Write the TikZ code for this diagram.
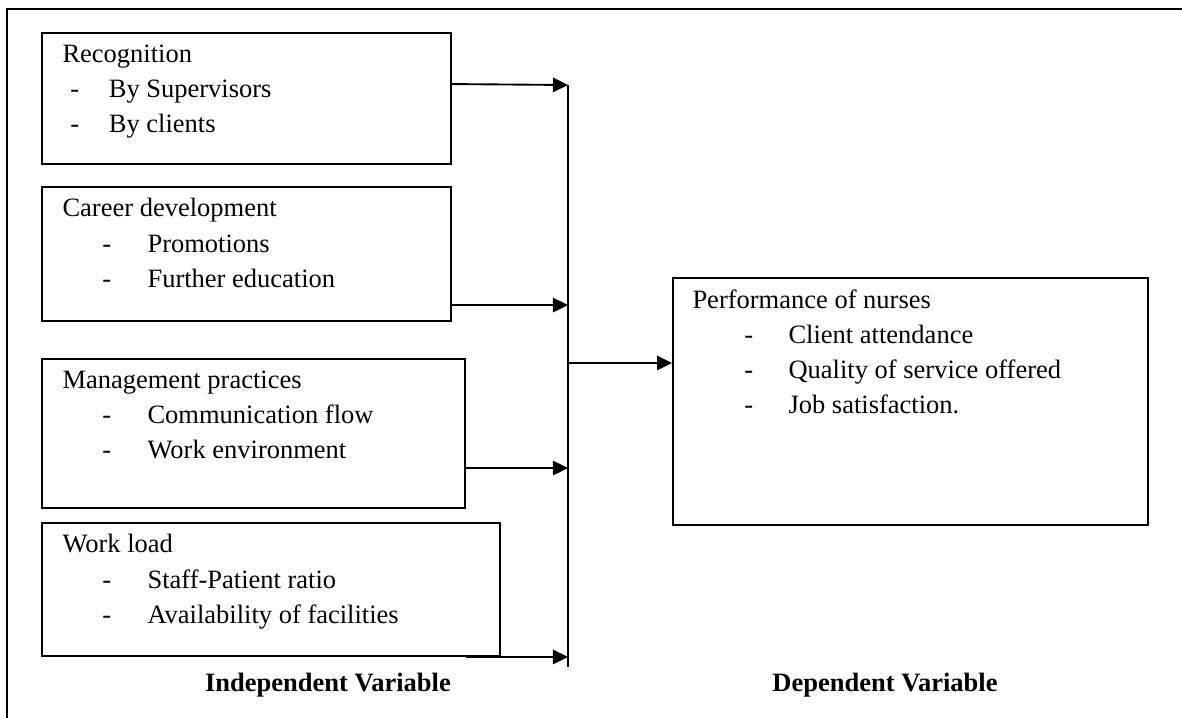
\documentclass[tikz,border=0pt]{standalone}
\usepackage{fontspec}
\setmainfont{Liberation Serif}
\usepackage{tikz}
\usetikzlibrary{fit, arrows.meta}

\newcommand{\dashitem}[3]{\makebox[#2][l]{\hspace*{#1}-}#3}

\begin{document}
\begin{tikzpicture}[x=0.4528pt, y=-0.4528pt,
  varbox/.style={draw, line width=0.85pt, inner sep=0pt},
  vartext/.style={anchor=north west, align=left, inner sep=0pt, font=\fontsize{12}{15.9}\selectfont,
    execute at begin node=\rule{0pt}{10pt}},
  feed/.style={-{Triangle[length=6.8pt,width=6.5pt]}, line width=0.85pt}]
  \useasboundingbox (0,0) rectangle (1182,718);
  \draw[line width=0.85pt] (1182,9) -- (7,9) -- (7,718);

  % independent variables
  \node[varbox, fit={(42,33) (451,164)}] (recog) {};
  \node[vartext] (recogtxt) at ([shift={(21,12)}]recog.north west)
    {Recognition\\ \dashitem{3.6pt}{21pt}{By Supervisors}\\ \dashitem{3.6pt}{21pt}{By clients}};
  \node[varbox, fit={(42,187) (451,321)}] (career) {};
  \node[vartext] (careertxt) at ([shift={(21,12)}]career.north west)
    {Career development\\ \dashitem{18pt}{38.5pt}{Promotions}\\ \dashitem{18pt}{38.5pt}{Further education}};
  \node[varbox, fit={(42,359) (465,508)}] (manage) {};
  \node[vartext] (managetxt) at ([shift={(21,12)}]manage.north west)
    {Management practices\\ \dashitem{18pt}{38.5pt}{Communication flow}\\ \dashitem{18pt}{38.5pt}{Work environment}};
  \node[varbox, fit={(42,523) (500,656)}] (load) {};
  \node[vartext] (loadtxt) at ([shift={(21,12)}]load.north west)
    {Work load\\ \dashitem{18pt}{38.5pt}{Staff-Patient ratio}\\ \dashitem{18pt}{38.5pt}{Availability of facilities}};

  % dependent variable
  \node[varbox, fit={(673,278) (1148,525)}] (perf) {};
  \node[vartext] (perftxt) at ([shift={(20,12)}]perf.north west)
    {Performance of nurses\\ \dashitem{23.5pt}{43.5pt}{Client attendance}\\ \dashitem{23.5pt}{43.5pt}{Quality of service offered}\\ \dashitem{23.5pt}{43.5pt}{Job satisfaction.}};

  % connectors
  \coordinate (bustop) at (568,85);
  \coordinate (busbot) at (568,667);
  \coordinate (hub) at (568,363);
  \draw[line width=0.85pt] (bustop) -- (busbot);
  \draw[feed] ([shift={(0,52)}]recog.north east) -- (bustop);
  \draw[feed] ([shift={(0,119)}]career.north east) coordinate (c2) -- (c2 -| bustop);
  \draw[feed] ([shift={(0,110)}]manage.north east) coordinate (c3) -- (c3 -| bustop);
  \draw[feed] ([shift={(-35,0)}]load.south east) coordinate (c4) -- (c4 -| bustop);
  \draw[feed] (hub) -- (hub -| perf.west);

  \node[font=\fontsize{12}{14}\selectfont\bfseries, anchor=base] (indep) at (328,691) {Independent Variable};
  \node[font=\fontsize{12}{14}\selectfont\bfseries, anchor=base] (dep) at (885,691) {Dependent Variable};
\end{tikzpicture}
\end{document}
